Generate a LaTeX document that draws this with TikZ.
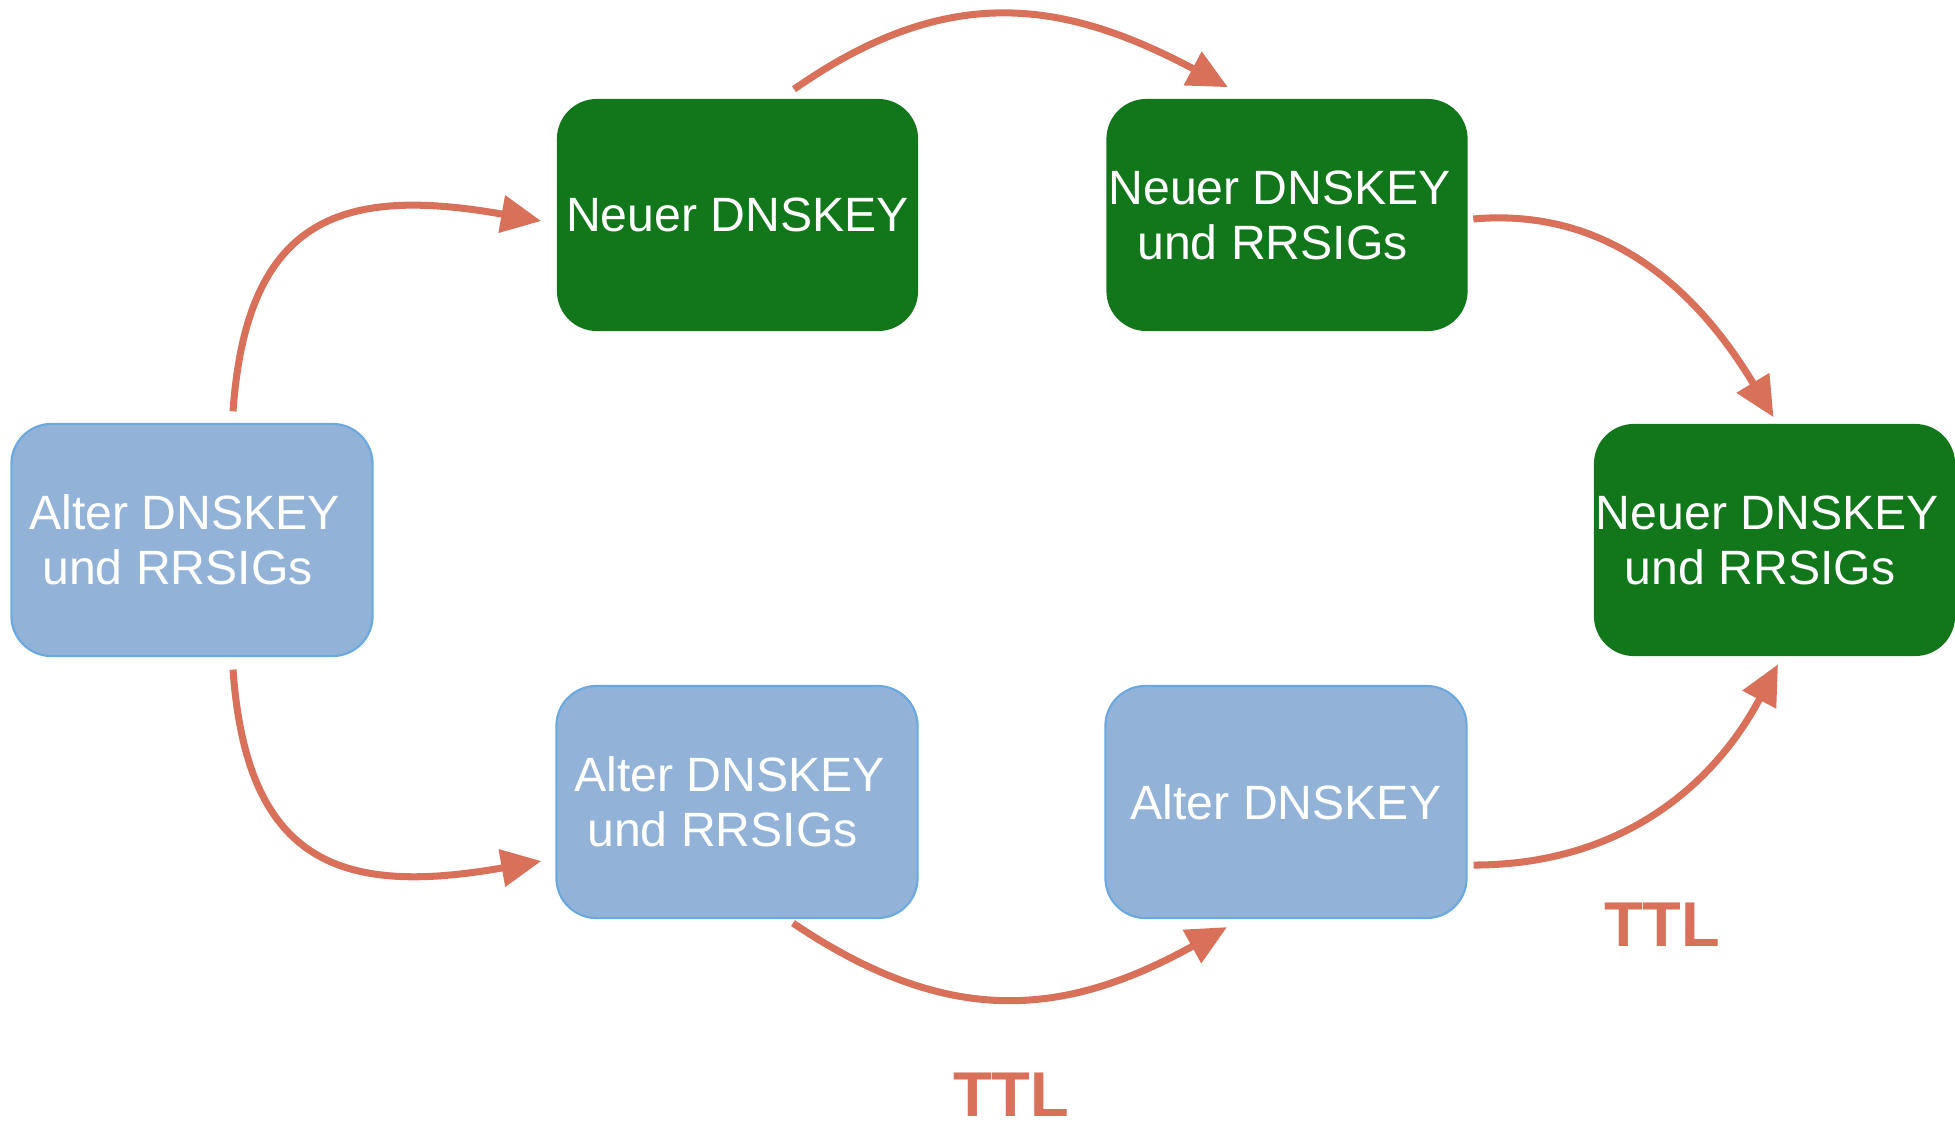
\documentclass[tikz,border=0pt]{standalone}
\usepackage{fontspec}
\setmainfont{Liberation Sans}
\usetikzlibrary{arrows.meta}
\definecolor{altblau}{RGB}{146,179,215}
\definecolor{altrand}{RGB}{106,168,224}
\definecolor{neugruen}{RGB}{18,119,27}
\definecolor{pfeilrot}{RGB}{217,112,90}
\def\zweizeilig#1#2{#1\hspace*{0.3em}\\#2\hspace*{0.6em}}
\tikzset{
	schluessel/.style={rounded corners=0.4cm, minimum width=3.61cm, minimum height=2.32cm, inner sep=0pt, align=center, text=white, font=\fontsize{13.7}{15.6}\selectfont},
	altbox/.style={schluessel, fill=altblau, draw=altrand, line width=0.6pt},
	neubox/.style={schluessel, fill=neugruen},
	pfeil/.style={draw=pfeilrot, line width=2pt, -{Triangle[length=11.4pt,width=10.4pt]}},
	ttl/.style={text=pfeilrot, inner sep=0pt, font=\fontsize{18}{20}\selectfont\bfseries}
}

\begin{document}
\begin{tikzpicture}[x=0.01cm, y=0.01cm]
			%%%%% START %%%%%
			\useasboundingbox (0,0) rectangle (1955,-1122);
			
			\node[altbox] (alt1) at (192,-540) {\zweizeilig{Alter DNSKEY}{und RRSIGs}};
			\node[neubox] (neu1) at (737.5,-215) {Neuer DNSKEY};
			\node[neubox] (neu2) at (1287,-215) {\zweizeilig{Neuer DNSKEY}{und RRSIGs}};
			\node[neubox] (neu3) at (1774.5,-540) {\zweizeilig{Neuer DNSKEY}{und RRSIGs}};
			\node[altbox] (alt2) at (737,-802) {\zweizeilig{Alter DNSKEY}{und RRSIGs}};
			\node[altbox] (alt3) at (1286,-802) {Alter DNSKEY};
			
			\draw[pfeil] ([xshift=0.41cm,yshift=0.115cm]alt1.north) to[out=86,in=170,looseness=1.4] ([xshift=-0.15cm,yshift=-0.06cm]neu1.west);
			\draw[pfeil] ([xshift=0.565cm,yshift=0.09cm]neu1.north) to[out=35,in=152,looseness=1.1] ([xshift=-0.59cm,yshift=0.11cm]neu2.north);
			\draw[pfeil] ([xshift=0.05cm,yshift=-0.04cm]neu2.east) to[out=5,in=121] ([xshift=-0.01cm,yshift=0.06cm]neu3.north);
			
			\draw[pfeil] ([xshift=0.41cm,yshift=-0.125cm]alt1.south) to[out=-86,in=-170,looseness=1.4] ([xshift=-0.14cm,yshift=-0.59cm]alt2.west);
			\draw[pfeil] ([xshift=0.56cm,yshift=-0.04cm]alt2.south) to[out=-34,in=-151,looseness=1.1] ([xshift=-0.59cm,yshift=-0.08cm]alt3.south);
			\draw[pfeil] ([xshift=0.06cm,yshift=-0.63cm]alt3.east) to[out=0,in=-118] ([xshift=0.035cm,yshift=-0.075cm]neu3.south);
			
			\node[ttl] (ttlunten) at (1011,-1095) {TTL};
			\node[ttl] (ttlrechts) at (1662,-925) {TTL};
			%%%%% END %%%%%
\end{tikzpicture}
\end{document}
